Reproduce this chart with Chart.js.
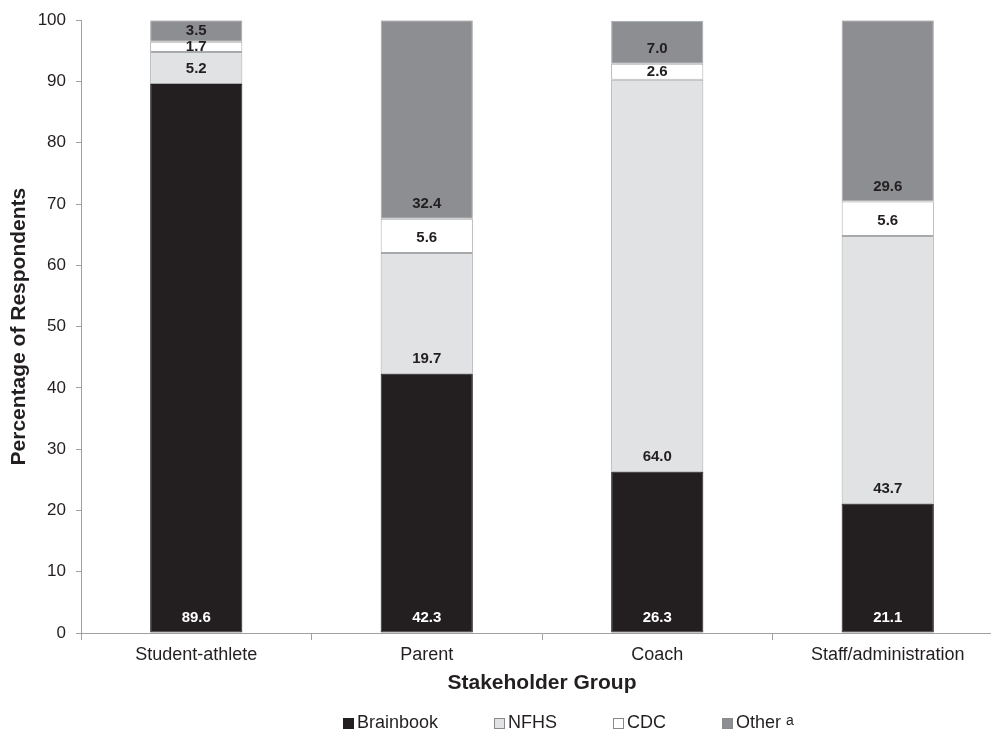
<!DOCTYPE html>
<html>
<head>
<meta charset="utf-8">
<script src="https://cdn.jsdelivr.net/npm/chart.js@4"></script>
<style>
    body { margin: 0; overflow: hidden; background: #fff; }
    #wrap { position: relative; width: 991px; height: 730px; overflow: hidden; }
    #legend {
        position: absolute; left: 343px; top: 712px;
        display: flex; align-items: center; white-space: nowrap;
        font: 18px "Liberation Sans", Arial, sans-serif; color: #231f20;
    }
    .item { display: flex; align-items: center; margin-right: 56px; }
    .box { width: 9px; height: 9px; border: 1px solid #888; margin-right: 3px; margin-top: 1px; }
    sup { font-size: 14px; margin-left: 5px; position: relative; top: -3px; }
</style>
</head>
<body>
<div id="wrap">
    <canvas id="chart" width="1010" height="730"></canvas>
    <div id="legend"></div>
</div>
<script>
const groups = ['Student-athlete', 'Parent', 'Coach', 'Staff/administration'];
const seriesNames = ['Brainbook', 'NFHS', 'CDC', 'Other'];
const brainbook = [89.6, 42.3, 26.3, 21.1];
const nfhs = [5.2, 19.7, 64.0, 43.7];
const cdc = [1.7, 5.6, 2.6, 5.6];
const other = [3.5, 32.4, 7.0, 29.6];
const yTicks = [0, 10, 20, 30, 40, 50, 60, 70, 80, 90, 100];

const fills = ['#231f20', '#e1e2e4', '#ffffff', '#8d8e91'];
const borders = ['#231f20', '#a7a9ac', '#a7a9ac', '#a7a9ac'];
const labelColors = ['#ffffff', '#231f20', '#231f20', '#231f20'];
const seriesValues = [brainbook, nfhs, cdc, other];

const FONT = '"Liberation Sans", Arial, sans-serif';
const axisGray = '#a0a0a0';

// value labels sit near the bottom of each segment, or centred when the segment is short
const valueLabels = {
    id: 'valueLabels',
    afterDatasetsDraw(chart) {
        const ctx = chart.ctx;
        ctx.save();
        ctx.font = 'bold 15px ' + FONT;
        ctx.textAlign = 'center';
        ctx.textBaseline = 'middle';
        chart.data.datasets.forEach((ds, i) => {
            chart.getDatasetMeta(i).data.forEach((bar, j) => {
                const y = Math.max(bar.base - 15, (bar.y + bar.base) / 2);
                ctx.fillStyle = labelColors[i];
                ctx.fillText(ds.data[j].toFixed(1), bar.x, y);
            });
        });
        ctx.restore();
    }
};

new Chart(document.getElementById('chart').getContext('2d'), {
    type: 'bar',
    data: {
        labels: groups,
        datasets: seriesNames.map((name, i) => ({
            label: name,
            data: seriesValues[i],
            backgroundColor: fills[i],
            borderColor: borders[i],
            borderWidth: 1,
            borderSkipped: false,
            barPercentage: 0.4,
            categoryPercentage: 1
        }))
    },
    options: {
        responsive: false,
        animation: false,
        layout: { padding: { top: 19, right: 7, bottom: 30, left: 0 } },
        plugins: {
            legend: { display: false },
            tooltip: { enabled: false }
        },
        scales: {
            x: {
                stacked: true,
                afterFit(scale) { scale.height = 67; },
                grid: { drawOnChartArea: false, tickLength: 7, color: axisGray },
                border: { color: axisGray },
                ticks: { color: '#231f20', font: { family: FONT, size: 18 }, padding: 4 },
                title: {
                    display: true,
                    text: 'Stakeholder Group',
                    color: '#231f20',
                    font: { family: FONT, size: 21, weight: 'bold' },
                    padding: { top: 0, bottom: 4 }
                }
            },
            y: {
                stacked: true,
                min: 0,
                max: 100,
                afterFit(scale) { scale.width = 81; },
                afterBuildTicks(scale) { scale.ticks = yTicks.map(v => ({ value: v })); },
                grid: { drawOnChartArea: false, tickLength: 5, color: axisGray },
                border: { color: axisGray },
                ticks: { color: '#231f20', font: { family: FONT, size: 17 }, padding: 10 },
                title: {
                    display: true,
                    text: 'Percentage of Respondents',
                    color: '#231f20',
                    font: { family: FONT, size: 21, weight: 'bold' },
                    padding: { top: 7, bottom: 0 }
                }
            }
        }
    },
    plugins: [valueLabels]
});

// legend built as html text
const legend = document.getElementById('legend');
seriesNames.forEach((name, i) => {
    const item = document.createElement('span');
    item.className = 'item';
    const box = document.createElement('span');
    box.className = 'box';
    box.style.background = fills[i];
    box.style.borderColor = i === 0 ? fills[0] : '#8a8a8a';
    item.appendChild(box);
    item.appendChild(document.createTextNode(name));
    if (name === 'Other') {
        const sup = document.createElement('sup');
        sup.textContent = 'a';
        item.appendChild(sup);
    }
    legend.appendChild(item);
});
</script>
</body>
</html>
